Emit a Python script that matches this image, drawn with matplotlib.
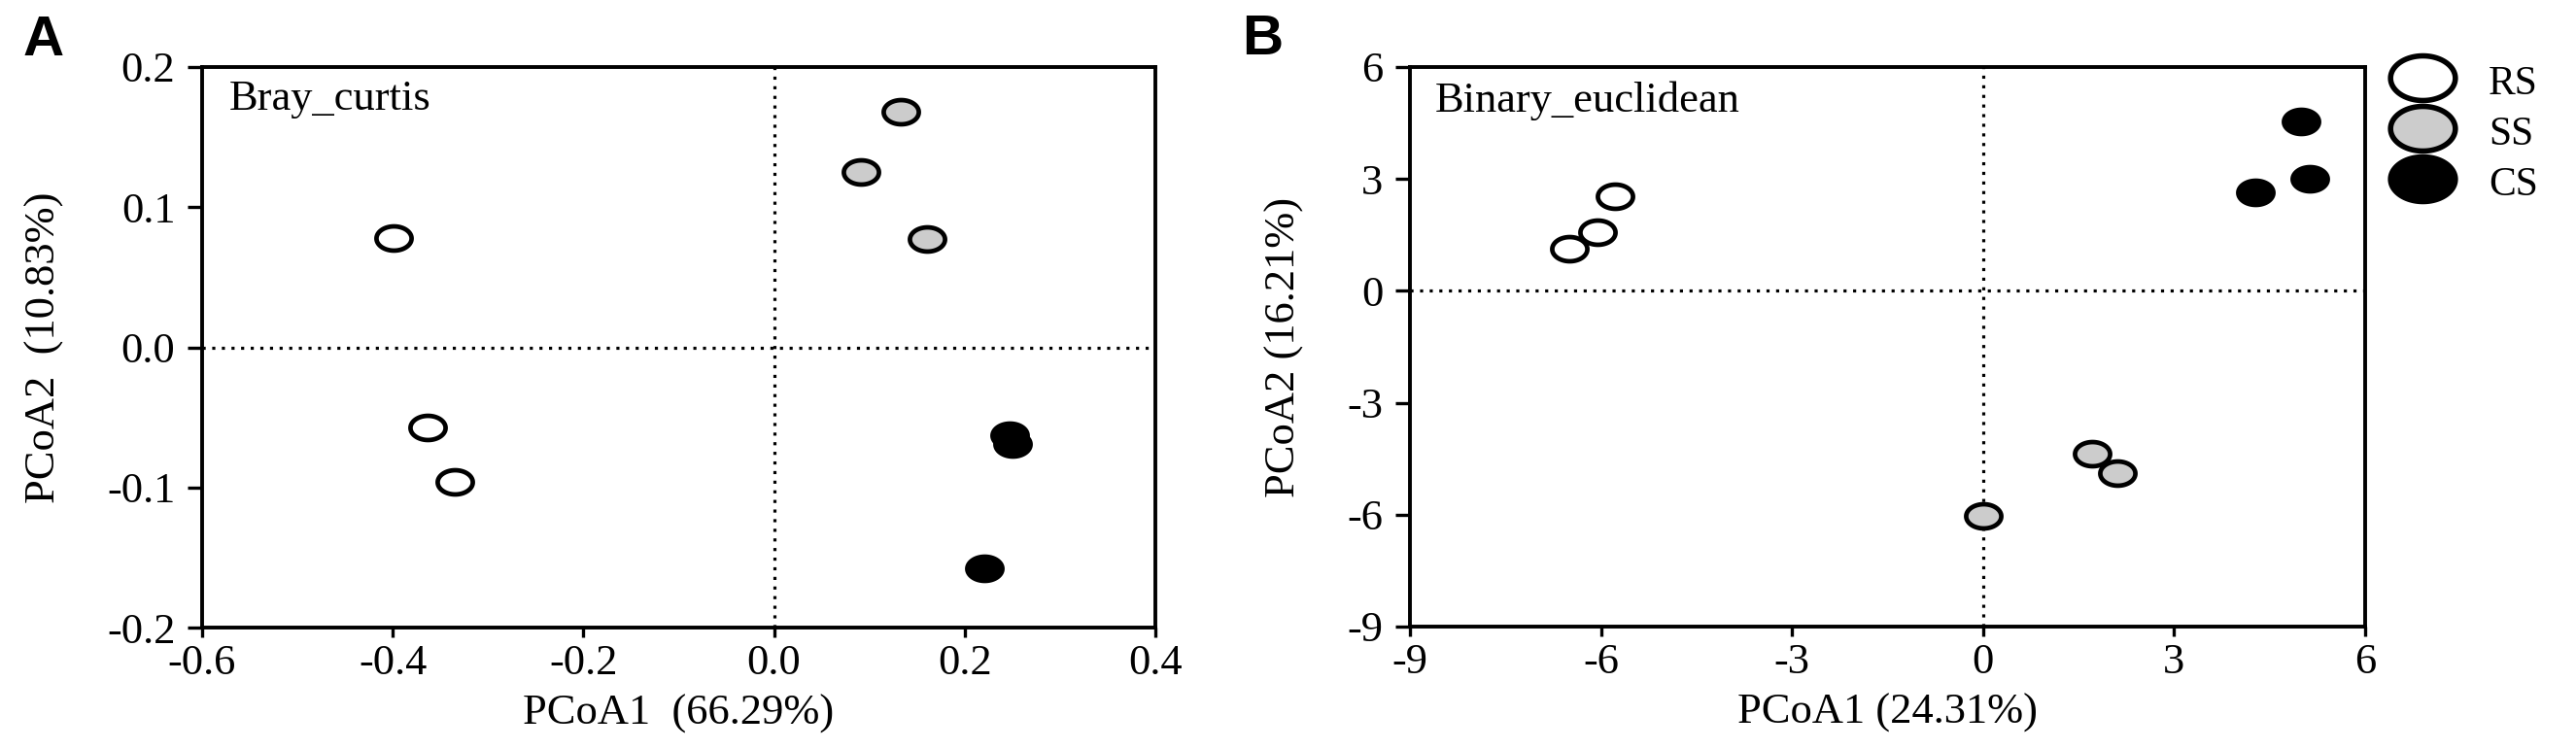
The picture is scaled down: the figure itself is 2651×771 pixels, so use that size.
import numpy as np
import matplotlib
matplotlib.use("Agg")
import matplotlib.pyplot as plt
from matplotlib.path import Path
from matplotlib.lines import Line2D

# ---- data ----
groups = ["RS", "SS", "CS"]
face_cols = ["white", "#cccccc", "black"]

# panel A, Bray_curtis
bc_rs_x = [-0.399, -0.364, -0.335]
bc_rs_y = [0.078, -0.057, -0.096]
bc_ss_x = [0.133, 0.091, 0.160]
bc_ss_y = [0.168, 0.125, 0.077]
bc_cs_x = [0.247, 0.250, 0.221]
bc_cs_y = [-0.063, -0.069, -0.158]

# panel B, Binary_euclidean
be_rs_x = [-6.50, -6.05, -5.78]
be_rs_y = [1.13, 1.56, 2.54]
be_ss_x = [0.00, 1.71, 2.11]
be_ss_y = [-6.02, -4.37, -4.89]
be_cs_x = [4.99, 5.13, 4.27]
be_cs_y = [4.54, 3.00, 2.63]

bc_xticks = [-0.6, -0.4, -0.2, 0.0, 0.2, 0.4]
bc_yticks = [-0.2, -0.1, 0.0, 0.1, 0.2]
be_ticks = [-9, -6, -3, 0, 3, 6]

plt.rcParams['font.family'] = ['Liberation Serif', 'DejaVu Serif']
plt.rcParams['axes.linewidth'] = 2.8

# wide ellipse marker (the original looks stretched sideways)
t = np.linspace(0, 2 * np.pi, 120)
ell = Path(np.column_stack([1.45 * np.cos(t), np.sin(t)]), closed=True)

fig = plt.figure(figsize=(26.51, 7.71), dpi=100)
W, H = 2651.0, 771.0
axA = fig.add_axes([208 / W, 1 - 646 / H, (1189 - 208) / W, (646 - 69) / H])
axB = fig.add_axes([1451 / W, 1 - 645 / H, (2434 - 1451) / W, (645 - 69) / H])

fs = 32

def pts(ax, xs, ys, fc):
    ax.plot(xs, ys, ls="none", marker=ell, ms=26, mfc=fc, mec="black",
            mew=3.4, zorder=3)

def style(ax):
    ax.axhline(0, color="black", lw=2.3, ls=(0, (1, 2.1)), zorder=1)
    ax.axvline(0, color="black", lw=2.3, ls=(0, (1, 2.1)), zorder=1)
    ax.tick_params(axis="y", direction="out", length=10.8, width=2.4,
                   labelsize=fs, pad=9)
    ax.tick_params(axis="x", direction="out", length=7, width=2.4,
                   labelsize=fs, pad=5)

# ---- panel A ----
pts(axA, bc_rs_x, bc_rs_y, face_cols[0])
pts(axA, bc_ss_x, bc_ss_y, face_cols[1])
pts(axA, bc_cs_x, bc_cs_y, face_cols[2])
style(axA)
axA.set_xlim(-0.6, 0.4)
axA.set_ylim(-0.2, 0.2)
axA.set_xticks(bc_xticks)
axA.set_xticklabels(["%.1f" % v if abs(v) > 1e-9 else "0.0" for v in bc_xticks])
axA.set_yticks(bc_yticks)
axA.set_yticklabels(["%.1f" % v if abs(v) > 1e-9 else "0.0" for v in bc_yticks])
axA.set_xlabel("PCoA1  (66.29%)", fontsize=fs)
axA.set_ylabel("PCoA2  (10.83%)", fontsize=fs, va="center")
axA.xaxis.set_label_coords(0.5, -0.172)
axA.xaxis.label.set_va("baseline")
axA.yaxis.set_label_coords(-0.165, 0.5)
axA.text(0.0285, 0.924, "Bray_curtis", transform=axA.transAxes,
         fontsize=fs, va="baseline")

# ---- panel B ----
pts(axB, be_rs_x, be_rs_y, face_cols[0])
pts(axB, be_ss_x, be_ss_y, face_cols[1])
pts(axB, be_cs_x, be_cs_y, face_cols[2])
style(axB)
axB.set_xlim(-9, 6)
axB.set_ylim(-9, 6)
axB.set_xticks(be_ticks)
axB.set_yticks(be_ticks)
axB.set_xticklabels([str(v) for v in be_ticks])
axB.set_yticklabels([str(v) for v in be_ticks])
axB.set_xlabel("PCoA1 (24.31%)", fontsize=fs)
axB.set_ylabel("PCoA2 (16.21%)", fontsize=fs, va="center")
axB.xaxis.set_label_coords(0.5, -0.172)
axB.xaxis.label.set_va("baseline")
axB.yaxis.set_label_coords(-0.131, 0.5)
axB.text(0.026, 0.920, "Binary_euclidean", transform=axB.transAxes,
         fontsize=fs, va="baseline")

# legend
handles = [Line2D([], [], ls="none", marker=ell, ms=48, mfc=c, mec="black",
                  mew=4.0) for c in face_cols]
fig.legend(handles, groups, loc="upper left",
           bbox_to_anchor=(2461 / W, 1 - 64 / H), frameon=False,
           fontsize=30, handlelength=1.55, handleheight=1.0,
           labelspacing=0.24, handletextpad=0.85, borderpad=0,
           borderaxespad=0)

# panel letters
fig.text(24 / W, 1 - 57 / H, "A", fontsize=42, fontweight="bold",
         family="Liberation Sans", va="baseline")
fig.text(1278 / W, 1 - 56 / H, "B", fontsize=42, fontweight="bold",
         family="Liberation Sans", va="baseline")

fig.savefig("out.png", dpi=100)
